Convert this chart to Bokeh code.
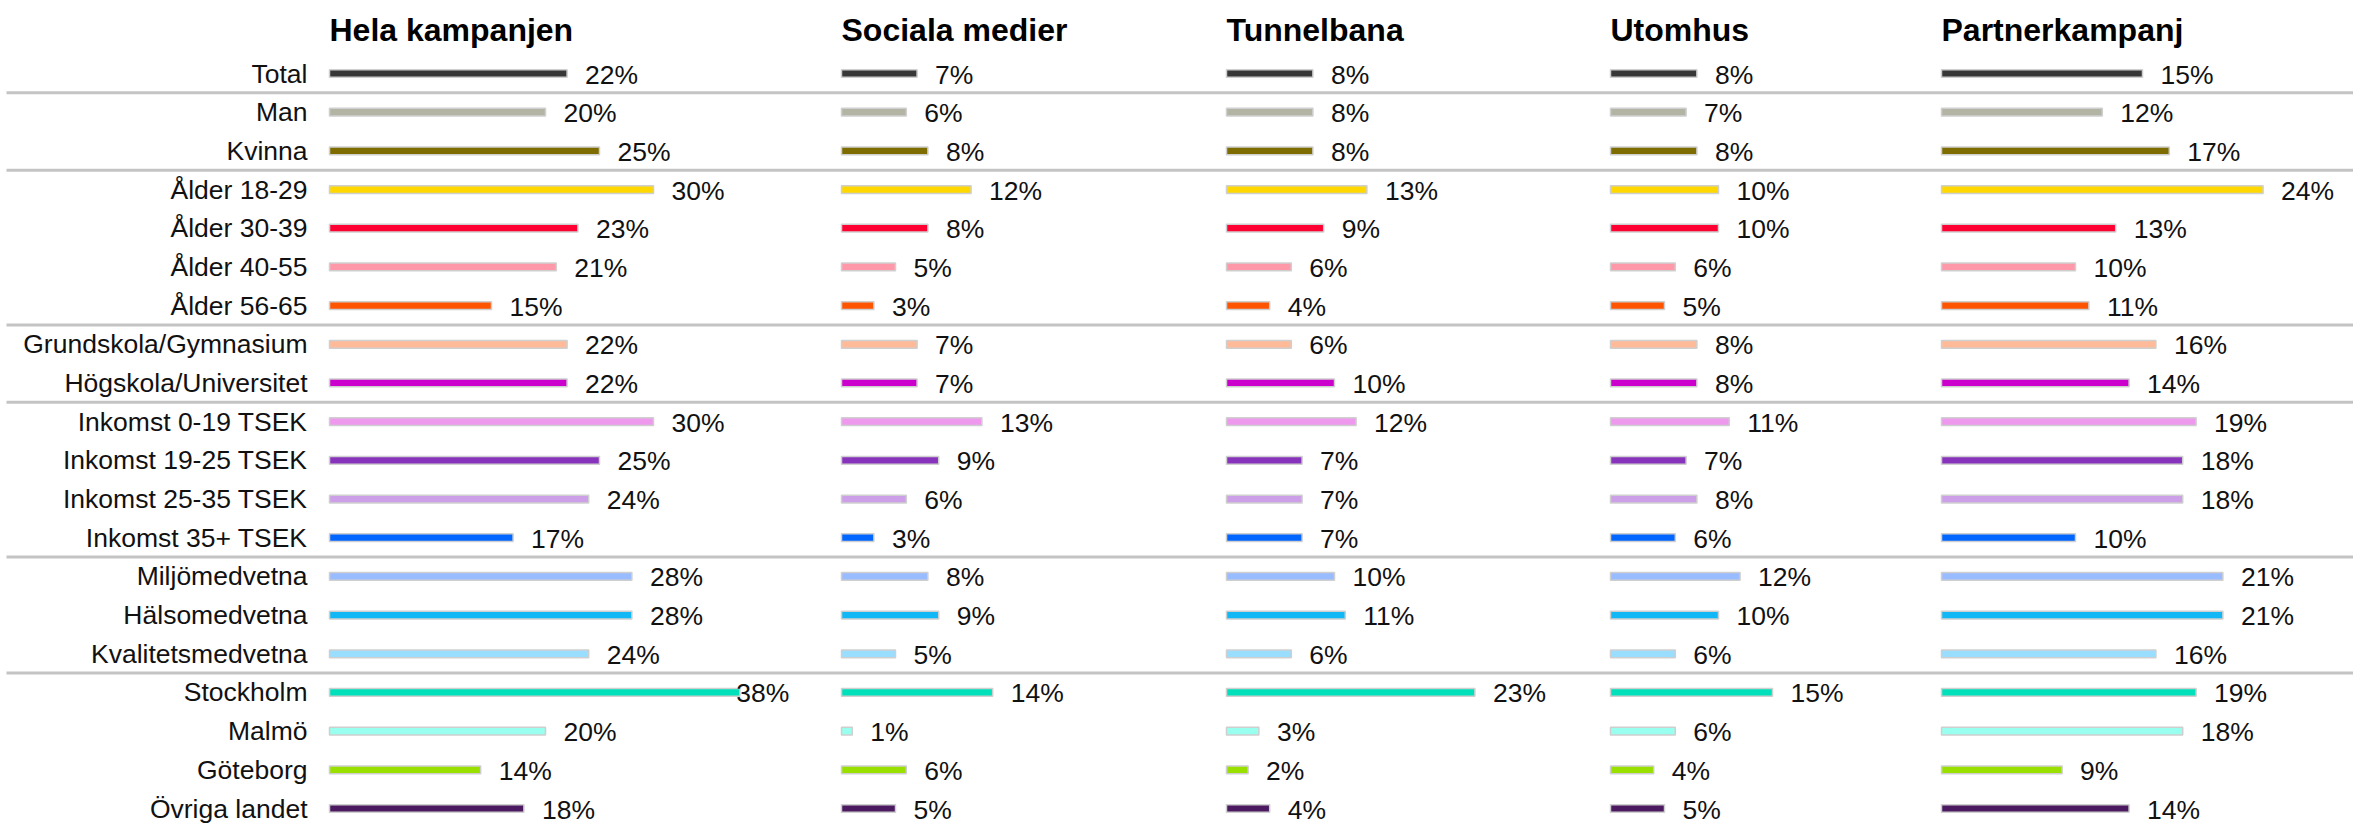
from bokeh.plotting import figure
from bokeh.models import ColumnDataSource, Range1d
from bokeh.core.properties import value
from bokeh.embed import file_html
from bokeh.resources import INLINE

# ---------------- data ----------------
categories = ["Total", "Man", "Kvinna",
              "Ålder 18-29", "Ålder 30-39", "Ålder 40-55", "Ålder 56-65",
              "Grundskola/Gymnasium", "Högskola/Universitet",
              "Inkomst 0-19 TSEK", "Inkomst 19-25 TSEK", "Inkomst 25-35 TSEK", "Inkomst 35+ TSEK",
              "Miljömedvetna", "Hälsomedvetna", "Kvalitetsmedvetna",
              "Stockholm", "Malmö", "Göteborg", "Övriga landet"]
group_sizes = [1, 2, 4, 2, 4, 3, 4]
panels = ["Hela kampanjen", "Sociala medier", "Tunnelbana", "Utomhus", "Partnerkampanj"]

hela_kampanjen = [22, 20, 25, 30, 23, 21, 15, 22, 22, 30, 25, 24, 17, 28, 28, 24, 38, 20, 14, 18]
sociala_medier = [7, 6, 8, 12, 8, 5, 3, 7, 7, 13, 9, 6, 3, 8, 9, 5, 14, 1, 6, 5]
tunnelbana = [8, 8, 8, 13, 9, 6, 4, 6, 10, 12, 7, 7, 7, 10, 11, 6, 23, 3, 2, 4]
utomhus = [8, 7, 8, 10, 10, 6, 5, 8, 8, 11, 7, 8, 6, 12, 10, 6, 15, 6, 4, 5]
partnerkampanj = [15, 12, 17, 24, 13, 10, 11, 16, 14, 19, 18, 18, 10, 21, 21, 16, 19, 18, 9, 14]
series = [hela_kampanjen, sociala_medier, tunnelbana, utomhus, partnerkampanj]

colors = ["#383838", "#b4b4a4", "#7f6c00",
          "#ffd800", "#ff0033", "#ff99aa", "#ff5500",
          "#ffbb99", "#cc00cc",
          "#ee99ee", "#8833bb", "#cc9fe8", "#0066ff",
          "#99bbff", "#11b8f5", "#99ddff",
          "#00e0bb", "#99ffee", "#99e000", "#4b1a60"]

# ---------------- layout ----------------
W, H = 2353, 823
ROW0 = 73.0          # canvas y of first row centre
ROW_LAST = 808.0     # canvas y of last row centre
ROW_H = (ROW_LAST - ROW0) / (len(categories) - 1)
panel_starts = [329, 841, 1226, 1610, 1941]      # canvas x where bars begin
panel_scale = [10.8, 10.8, 10.8, 10.8, 13.4]     # px per percent
label_right = 307
label_clamp = [36.0, None, None, None, None]

FONT = value("Liberation Sans")

p = figure(width=W, height=H, output_backend="svg", toolbar_location=None,
           x_range=Range1d(0, W),
           y_range=Range1d((H - ROW0) / ROW_H, -ROW0 / ROW_H),
           min_border=0, min_border_left=0, min_border_right=0,
           min_border_top=0, min_border_bottom=0)
p.axis.visible = False
p.grid.visible = False
p.outline_line_color = None
p.background_fill_color = "white"
p.border_fill_color = "white"

rows = list(range(len(categories)))

# separators between groups
bounds = []
acc = 0
for g in group_sizes[:-1]:
    acc += g
    bounds.append(acc - 0.5)
p.segment(x0=[6] * len(bounds), x1=[W] * len(bounds), y0=bounds, y1=bounds,
          line_color="#c4c4c4", line_width=3)

# category labels
p.text(x=[label_right] * len(categories), y=rows, text=categories,
       text_font=FONT, text_font_size=value("26.5px"), text_color="#111111",
       text_align="right", text_baseline="middle")

for k, (name, vals) in enumerate(zip(panels, series)):
    rname = f"r{k}"
    c = panel_starts[k]
    s = panel_scale[k]
    p.extra_x_ranges[rname] = Range1d(-c / s, (W - c) / s)
    clamp = label_clamp[k]
    lx = [min(v, clamp) if clamp is not None else v for v in vals]
    src = ColumnDataSource(dict(y=rows, v=vals, lx=lx, color=colors,
                                lab=[f"{v}%" for v in vals]))
    p.hbar(y="y", left=0, right="v", height=0.2, fill_color="color",
           line_color="#cfcfcf", line_width=1.5, source=src, x_range_name=rname)
    p.text(x="lx", y="y", text="lab", source=src, x_range_name=rname,
           text_font=FONT, text_font_size=value("26.5px"), text_color="#111111",
           text_align="left", text_baseline="middle", x_offset=18, y_offset=1)
    p.text(x=[0], y=[-1.13], text=[name], x_range_name=rname,
           text_font=FONT, text_font_size=value("32px"), text_font_style="bold",
           text_color="#000000", text_align="left", text_baseline="alphabetic")

open("out.html", "w").write(file_html(p, INLINE))
